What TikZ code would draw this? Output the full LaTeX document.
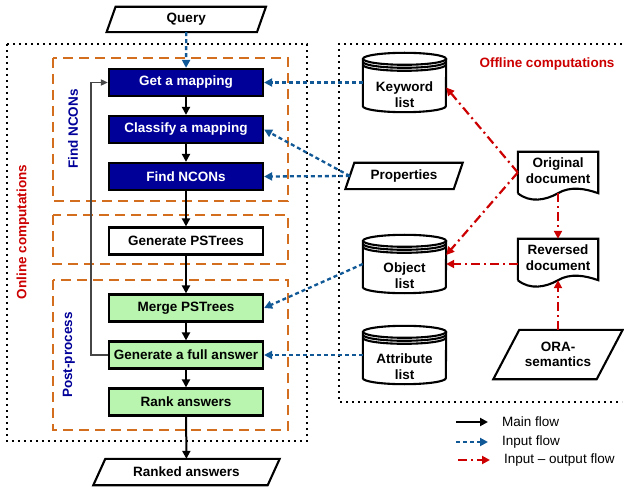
\documentclass[tikz,border=0pt]{standalone}
\usepackage{fontspec}
\setmainfont{Liberation Sans}
\usetikzlibrary{arrows.meta,calc}

\definecolor{navyfill}{RGB}{0,0,153}
\definecolor{mintfill}{RGB}{185,245,175}
\definecolor{groupline}{RGB}{210,110,30}
\definecolor{inputblue}{RGB}{16,88,150}
\definecolor{ioRed}{RGB}{204,0,0}
\definecolor{loopgray}{RGB}{70,70,70}

\tikzset{
  txt/.style={font=\bfseries\fontsize{13.5}{15.5}\selectfont, align=center, inner sep=0pt},
  stepbox/.style={txt, draw, line width=2.2pt, minimum width=154pt, minimum height=27pt},
  navybox/.style={stepbox, fill=navyfill, text=white},
  whitebox/.style={stepbox, fill=white},
  mintbox/.style={stepbox, fill=mintfill},
  hull/.style={txt, draw=none},
  outline/.style={line width=2.1pt, line join=miter},
  mainflow/.style={line width=2pt, -{Triangle[length=8pt,width=8pt]}},
  inflow/.style={inputblue, line width=2.3pt, dash pattern=on 4pt off 3pt,
                 -{Triangle[length=8pt,width=8pt]}},
  ioflow/.style={ioRed, line width=2.2pt, dash pattern=on 9pt off 4pt on 2pt off 4pt,
                 -{Triangle[length=8pt,width=8pt]}},
  loopback/.style={loopgray, line width=1.6pt, -{Triangle[length=7pt,width=6pt]}},
  group/.style={groupline, line width=2.3pt, dash pattern=on 10pt off 6pt},
  region/.style={line width=2.2pt, line cap=butt, dash pattern=on 2.2pt off 3.8pt},
  sidelabel/.style={font=\bfseries\fontsize{13.5}{15.5}\selectfont, rotate=90},
  legendtxt/.style={font=\fontsize{13.5}{15.5}\selectfont, anchor=west, inner sep=0pt}
}

% slanted input/output outline around node #1, half slant #2
\newcommand\ioshape[2]{%
  \draw[outline,fill=white] ($(#1.south west)+(-#2pt,0)$) -- ($(#1.north west)+(#2pt,0)$)
    -- ($(#1.north east)+(#2pt,0)$) -- ($(#1.south east)+(-#2pt,0)$) -- cycle;}

% stored list (cylinder) around node #1
\newcommand\storeshape[1]{%
  \draw[outline,fill=white] ($(#1.north west)+(0,-6pt)$) -- ($(#1.south west)+(0,6pt)$)
    arc[start angle=180,end angle=360,x radius=41.5pt,y radius=6pt]
    -- ($(#1.north east)+(0,-6pt)$);
  \draw[outline,fill=white] ($(#1.north)+(0,-6pt)$) ellipse[x radius=41.5pt,y radius=6pt];
  \draw[outline] ($(#1.north west)+(0,-9pt)$) arc[start angle=180,end angle=360,x radius=41.5pt,y radius=6pt];
  \draw[outline] ($(#1.north west)+(0,-12pt)$) arc[start angle=180,end angle=360,x radius=41.5pt,y radius=6pt];}

% document outline with wavy bottom around node #1
\newcommand\docshape[1]{%
  \draw[outline,fill=white] (#1.south west) -- (#1.north west) -- (#1.north east) -- (#1.south east)
    .. controls ($(#1.south east)+(-14pt,5pt)$) and ($(#1.south)+(12pt,7pt)$) .. ($(#1.south)+(0,0pt)$)
    .. controls ($(#1.south)+(-12pt,-7pt)$) and ($(#1.south west)+(12pt,-10pt)$) .. (#1.south west);}

\begin{document}
\begin{tikzpicture}[x=1pt,y=-1pt]
\useasboundingbox (0,0) rectangle (624,489);

% online / offline regions
\draw[region] (7,44) rectangle (307,441);
\draw[region] (622,44) -- (339,44) -- (339,402) -- (622,402);

% phase groups
\draw[group] (53,58) rectangle (288,201);
\draw[group] (53,215) rectangle (288,264);
\draw[group] (53,280) rectangle (288,430);

\node[sidelabel, text=ioRed] at (23,232) {Online computations};
\node[sidelabel, text=navyfill] at (73,129) {Find NCONs};
\node[sidelabel, text=navyfill] at (69,355) {Post-process};
\node[txt, text=ioRed] at (547,64) {Offline computations};

% online steps
\node[hull, minimum width=150pt, minimum height=25pt] (query) at (186.25,19.5) {};
\ioshape{query}{4.5}
\node[txt] at (query) {Query};

\node[navybox] (get) at (186,82.5) {Get a mapping};
\node[navybox] (classify) at (186,129.5) {Classify a mapping};
\node[navybox] (findn) at (186,176.5) {Find NCONs};
\node[whitebox] (genps) at (186,241) {Generate PSTrees};
\node[mintbox] (merge) at (186,308) {Merge PSTrees};
\node[mintbox] (full) at (186,355) {Generate a full answer};
\node[mintbox] (rank) at (186,402) {Rank answers};

\node[hull, minimum width=174pt, minimum height=26pt] (ranked) at (186.5,472) {};
\ioshape{ranked}{6}
\node[txt] at (ranked) {Ranked answers};

% offline resources
\node[hull, minimum width=83pt, minimum height=59pt] (kw) at (404.5,82.5) {};
\storeshape{kw}
\node[txt] at ($(kw.center)+(0,-12pt)$) {Keyword\\list};

\node[hull, minimum width=83pt, minimum height=58pt] (obj) at (404.5,264) {};
\storeshape{obj}
\node[txt] at ($(obj.center)+(0,-11.5pt)$) {Object\\list};

\node[hull, minimum width=83pt, minimum height=58pt] (attr) at (404.5,355) {};
\storeshape{attr}
\node[txt] at ($(attr.center)+(0,-11.5pt)$) {Attribute\\list};

\node[hull, minimum width=108pt, minimum height=26pt] (props) at (404,176) {};
\ioshape{props}{4.5}
\node[txt] at (props) {Properties};

\node[hull, minimum width=80pt, minimum height=41pt] (orig) at (558,172.5) {};
\docshape{orig}
\node[txt] at ($(orig.center)+(0,2pt)$) {Original\\document};

\node[hull, minimum width=80pt, minimum height=41pt] (rev) at (558,259.5) {};
\docshape{rev}
\node[txt] at ($(rev.center)+(0,2pt)$) {Reversed\\document};

\node[hull, minimum width=103pt, minimum height=49pt] (ora) at (558,354.5) {};
\ioshape{ora}{13}
\node[txt] at (ora) {ORA-\\semantics};

% main flow
\draw[mainflow] (get) -- (classify);
\draw[mainflow] (classify) -- (findn);
\draw[mainflow] (findn) -- (genps);
\draw[mainflow] (genps) -- (merge);
\draw[mainflow] (merge) -- (full);
\draw[mainflow] (full) -- (rank);
\draw[mainflow] (rank) -- (ranked);
\draw[loopback] (full.west) -- ++(-17,0) |- (get.west);

% input flow
\draw[inflow] (query) -- (get);
\draw[inflow] (kw.west) -- (get.east);
\draw[inflow] (props.west) -- (classify.east);
\draw[inflow] (props.west) -- (findn.east);
\draw[inflow] (obj.west) -- (merge.east);
\draw[inflow] (attr.west) -- (full.east);

% input-output flow
\draw[ioflow] (orig.west) -- ($(kw.east)+(0,-5pt)$);
\draw[ioflow] (orig.west) -- ($(obj.east)+(0,9pt)$);
\draw[ioflow] (orig.south) -- (rev.north);
\draw[ioflow] (rev.west |- obj.east) -- (obj.east);
\draw[ioflow] (ora.north) -- (rev.south);

% legend
\coordinate (m1) at (456,422); \coordinate (m2) at (488,422);
\coordinate (i1) at (456,442); \coordinate (i2) at (488,442);
\coordinate (o1) at (458,460); \coordinate (o2) at (490,460);
\draw[mainflow] (m1) -- (m2);
\draw[inflow] (i1) -- (i2);
\draw[ioflow] (o1) -- (o2);
\node[legendtxt] at (502,422) {Main flow};
\node[legendtxt] at (502,442) {Input flow};
\node[legendtxt] at (504,460) {Input – output flow};
\end{tikzpicture}
\end{document}
